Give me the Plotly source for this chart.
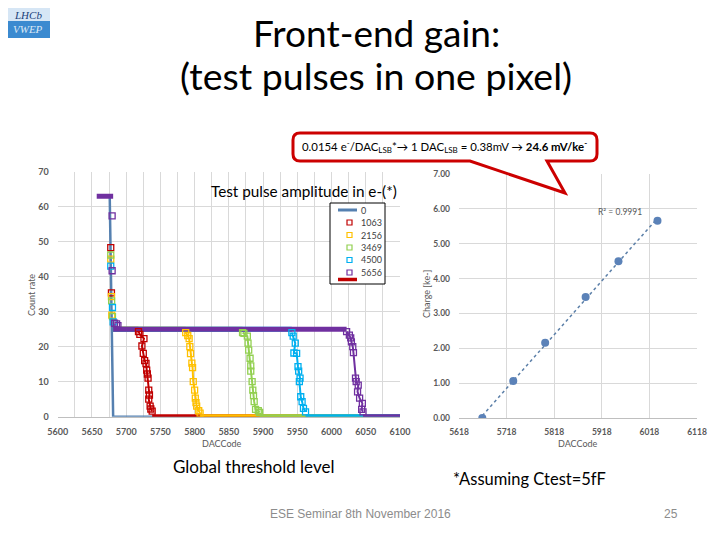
import numpy as np
import plotly.graph_objects as go

# page body has an 8px margin, so the figure is drawn at (8, 8)
OFF = 8
W, H = 720 - OFF, 540 - OFF

# ---------------- data: left chart (S-curves) ----------------
zero_x = [5676, 5677, 5678, 5679, 5680, 5681, 6100]
zero_y = [63, 50, 38, 26, 10, 0, 0]

amplitudes = ["1063", "2156", "3469", "4500", "5656"]
colors = ["#c00000", "#ffc000", "#92d050", "#00b0f0", "#7030a0"]

edge_x_1063 = [5718, 5720, 5726, 5723, 5725, 5727, 5729, 5730, 5731, 5732, 5733, 5734, 5733, 5735, 5736, 5738]
edge_y_1063 = [24.3, 23.5, 22.3, 20.2, 18.1, 16, 15.2, 13.3, 12.2, 11, 7.6, 6.2, 5, 3, 2.2, 1.6]
edge_x_2156 = [5787, 5790, 5792, 5793, 5794, 5796, 5797, 5798, 5800, 5801, 5802, 5803, 5806, 5808]
edge_y_2156 = [24, 23.2, 22.3, 20, 18, 15.3, 14, 10, 7.6, 5.3, 4, 3, 1.7, 1]
edge_x_3469 = [5870, 5872, 5877, 5878, 5879, 5881, 5882, 5882, 5884, 5885, 5886, 5887, 5889, 5893, 5895]
edge_y_3469 = [24, 23.8, 23, 21, 19, 16.7, 14.5, 13, 10, 7.6, 6, 4.3, 2.1, 1.7, 1.2]
edge_x_4500 = [5942, 5944, 5947, 5945, 5949, 5951, 5952, 5954, 5953, 5955, 5957, 5959, 5962]
edge_y_4500 = [24, 23, 21, 18.2, 18.1, 14.3, 13, 11, 10, 5.7, 4.3, 2.4, 1.4]
edge_x_5656 = [6022, 6026, 6028, 6029, 6031, 6032, 6035, 6036, 6039, 6038, 6041, 6045, 6044, 6046]
edge_y_5656 = [24.3, 23.3, 22.5, 21.4, 20, 18.3, 11, 10, 9, 7.1, 5.3, 3.8, 2.1, 1.4]

noise_x_1063 = [5677.5, 5678.5]
noise_y_1063 = [48.3, 35.4]
noise_x_2156 = [5677.5, 5678.5, 5679]
noise_y_2156 = [45.0, 34.3, 29.0]
noise_x_3469 = [5677.5, 5678.8, 5680]
noise_y_3469 = [46.2, 33.1, 28.6]
noise_x_4500 = [5677.5, 5680, 5681]
noise_y_4500 = [43.0, 31.2, 27.1]
noise_x_5656 = [5679.5, 5679.5, 5683, 5686, 5688]
noise_y_5656 = [57.4, 41.7, 26.7, 26.5, 26.0]

top_x = [5657, 5681]
top_y = [63, 63]
plateau_start = 5681
plateau_level = 25
zero_end = 6100

edges_x = [edge_x_1063, edge_x_2156, edge_x_3469, edge_x_4500, edge_x_5656]
edges_y = [edge_y_1063, edge_y_2156, edge_y_3469, edge_y_4500, edge_y_5656]
noises_x = [noise_x_1063, noise_x_2156, noise_x_3469, noise_x_4500, noise_x_5656]
noises_y = [noise_y_1063, noise_y_2156, noise_y_3469, noise_y_4500, noise_y_5656]

# ---------------- data: right chart (gain fit) ----------------
threshold_dac = [5667, 5732, 5799, 5884, 5953, 6035]
charge_ke = [0.0, 1.063, 2.156, 3.469, 4.5, 5.656]

left_xticks = [5600, 5650, 5700, 5750, 5800, 5850, 5900, 5950, 6000, 6050, 6100]
right_xticks = [5618, 5718, 5818, 5918, 6018, 6118]


def PX(x):
    return (x - OFF) / W


def PY(y):
    return 1 - (y - OFF) / H


fig = go.Figure()

# blue "0" series
fig.add_trace(go.Scatter(x=zero_x, y=zero_y, mode="lines",
                         line=dict(color="#5580b0", width=2.5),
                         xaxis="x", yaxis="y", showlegend=False))

# thick plateau / zero lines per series (later ones cover earlier ones)
for ex, ey, c in zip(edges_x, edges_y, colors):
    fig.add_trace(go.Scatter(x=[plateau_start, ex[0]], y=[plateau_level, plateau_level],
                             mode="lines", line=dict(color=c, width=5),
                             xaxis="x", yaxis="y", showlegend=False))
for ex, ey, c in zip(edges_x, edges_y, colors):
    fig.add_trace(go.Scatter(x=[ex[-1], zero_end], y=[0, 0],
                             mode="lines", line=dict(color=c, width=5),
                             xaxis="x", yaxis="y", showlegend=False))
fig.add_trace(go.Scatter(x=top_x, y=top_y, mode="lines",
                         line=dict(color=colors[-1], width=5),
                         xaxis="x", yaxis="y", showlegend=False))

# transition lines + hollow square markers
for ex, ey, nx, ny, c, name in zip(edges_x, edges_y, noises_x, noises_y, colors, amplitudes):
    fig.add_trace(go.Scatter(x=ex, y=ey, mode="lines+markers",
                             line=dict(color=c, width=2),
                             marker=dict(symbol="square-open", size=6, color=c,
                                         line=dict(width=1.3, color=c)),
                             xaxis="x", yaxis="y", showlegend=False, name=name))
    fig.add_trace(go.Scatter(x=nx, y=ny, mode="markers",
                             marker=dict(symbol="square-open", size=6, color=c,
                                         line=dict(width=1.3, color=c)),
                             xaxis="x", yaxis="y", showlegend=False, name=name))

# right chart
coef = np.polyfit(threshold_dac, charge_ke, 1)
fit_x = [min(threshold_dac), max(threshold_dac)]
fit_y = [coef[0] * v + coef[1] for v in fit_x]
fig.add_trace(go.Scatter(x=fit_x, y=fit_y, mode="lines",
                         line=dict(color="#5b7fa8", width=1.5, dash="dot"),
                         xaxis="x2", yaxis="y2", showlegend=False))
fig.add_trace(go.Scatter(x=threshold_dac, y=charge_ke, mode="markers",
                         marker=dict(symbol="circle", size=8, color="#5b82b8"),
                         xaxis="x2", yaxis="y2", showlegend=False))

tickfont = dict(family="Lato", size=9, color="#595959", weight="bold")
tickfont2 = dict(family="Lato", size=8.5, color="#595959", weight="bold")
grid = "#d9d9d9"

fig.update_layout(
    template="none",
    width=W, height=H,
    margin=dict(l=0, r=0, t=0, b=0, pad=0),
    paper_bgcolor="white", plot_bgcolor="white",
    showlegend=False,
    xaxis=dict(domain=[PX(57.7), PX(400)], range=[5600, 6100], tickvals=left_xticks,
               showgrid=True, gridcolor=grid, gridwidth=1, automargin=False,
               minor=dict(dtick=25, tick0=5600, showgrid=True, gridcolor=grid),
               showline=True, linecolor="#bfbfbf", zeroline=False,
               tickfont=tickfont, ticks="", ticklabelstandoff=6, anchor="y"),
    yaxis=dict(domain=[PY(416.7), PY(171.7)], range=[0, 70], dtick=10,
               showgrid=True, gridcolor=grid, zeroline=False, automargin=False,
               tickfont=tickfont, ticks="", ticklabelstandoff=8, anchor="x"),
    xaxis2=dict(domain=[PX(459), PX(697)], range=[5618, 6118], tickvals=right_xticks,
                showgrid=True, gridcolor=grid, zeroline=False, automargin=False,
                showline=True, linecolor="#bfbfbf",
                tickfont=tickfont2, ticks="", ticklabelstandoff=6, anchor="y2"),
    yaxis2=dict(domain=[PY(418), PY(174)], range=[0, 7], dtick=1, tickformat=".2f",
                showgrid=True, gridcolor=grid, zeroline=False, automargin=False,
                tickfont=tickfont2, ticks="", ticklabelstandoff=8, anchor="x2"),
)

ann = []


def text(x, y, s, size, color="black", xanchor="center", yanchor="middle", family="Lato",
         angle=0, weight="normal", pad=1):
    ann.append(dict(x=PX(x), y=PY(y), xref="paper", yref="paper", text=s, showarrow=False,
                    xanchor=xanchor, yanchor=yanchor, textangle=angle, borderpad=pad,
                    font=dict(family=family, size=size, color=color, weight=weight)))


# slide titles
text(376, 32.5, "Front-end gain:", 37, pad=0)
text(376, 75.5, "(test pulses in one pixel)", 37.5, pad=0)

# axis titles
text(31, 295, "Count rate", 9, "#595959", angle=-90)
text(222, 443, "DACCode", 9, "#595959")
text(426, 294, "Charge [ke-]", 9, "#595959", angle=-90)
text(578, 443, "DACCode", 9, "#595959")

# chart annotations
text(304, 191, "Test pulse amplitude in e-(*)", 15.3)
text(620, 212, "R² = 0.9991", 8.5, "#595959")

# callout
text(444, 147, "0.0154 e<sup>-</sup>/DAC<sub>LSB</sub>*→ 1 DAC<sub>LSB</sub> = 0.38mV → <b>24.6 mV/ke<sup>-</sup></b>",
     11.4, "black")

# bottom texts
text(253, 466, "Global threshold level", 17)
text(529, 479, "*Assuming Ctest=5fF", 16.5)
text(360, 514, "ESE Seminar 8th November 2016", 12, "#8c8c8c", family="Liberation Sans")
text(671, 514, "25", 12, "#8c8c8c", family="Liberation Sans")

# manual legend
leg_names = ["0"] + amplitudes
leg_rows = [210, 222.5, 235, 247.5, 260, 272.5]
for i, (nm, ry) in enumerate(zip(leg_names, leg_rows)):
    text(359, ry, nm, 9, "#404040", xanchor="left")

# logo text
text(28, 15, "<i>LHCb</i>", 11, "#1a3f7a", family="Liberation Serif")
text(28, 29, "<i>VWEP</i>", 11, "#dbe8f5", family="Liberation Serif")

fig.update_layout(annotations=ann)

shapes = []


def pp(x, y):
    return f"{PX(x):.5f},{PY(y):.5f}"


callout = ("M " + pp(300, 133) + " L " + pp(590, 133) + " Q " + pp(597, 133) + " " + pp(597, 140) +
           " L " + pp(597, 154) + " Q " + pp(597, 161) + " " + pp(590, 161) +
           " L " + pp(547, 161) + " L " + pp(565, 193) + " L " + pp(470, 161) +
           " L " + pp(300, 161) + " Q " + pp(293, 161) + " " + pp(293, 154) +
           " L " + pp(293, 140) + " Q " + pp(293, 133) + " " + pp(300, 133) + " Z")
shapes.append(dict(type="path", path=callout, xref="paper", yref="paper",
                   line=dict(color="#cc0000", width=3), fillcolor="white", layer="above"))

# legend box
shapes.append(dict(type="rect", xref="paper", yref="paper", x0=PX(330), x1=PX(385),
                   y0=PY(284), y1=PY(203), line=dict(color="black", width=1),
                   fillcolor="white", layer="above"))
shapes.append(dict(type="line", xref="paper", yref="paper", x0=PX(338), x1=PX(357),
                   y0=PY(210), y1=PY(210), line=dict(color="#5580b0", width=3), layer="above"))
for c, ry in zip(colors, leg_rows[1:]):
    shapes.append(dict(type="rect", xref="paper", yref="paper", x0=PX(347), x1=PX(352),
                       y0=PY(ry + 2.5), y1=PY(ry - 2.5), line=dict(color=c, width=1.2),
                       fillcolor="rgba(0,0,0,0)", layer="above"))
shapes.append(dict(type="line", xref="paper", yref="paper", x0=PX(338), x1=PX(357),
                   y0=PY(279.5), y1=PY(279.5), line=dict(color="#c00000", width=3.5), layer="above"))

# logo
shapes.append(dict(type="rect", xref="paper", yref="paper", x0=PX(8), x1=PX(50),
                   y0=PY(38), y1=PY(21), line=dict(width=0), fillcolor="#3b8ad0", layer="below"))
shapes.append(dict(type="rect", xref="paper", yref="paper", x0=PX(8), x1=PX(50),
                   y0=PY(21), y1=PY(8), line=dict(width=0), fillcolor="#d6e6f5", layer="below"))

fig.update_layout(shapes=shapes)

fig.write_html("out.html")
